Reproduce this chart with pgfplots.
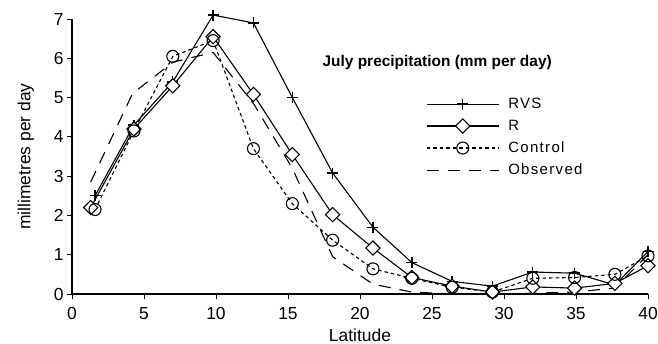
\documentclass[border=0pt]{standalone}
\usepackage{pgfplots}
\pgfplotsset{compat=1.18}
\usepackage{fontspec}
\setmainfont{Liberation Sans}
\newfontfamily\legfont[LetterSpace=9]{Liberation Sans}
\begin{document}
\begin{tikzpicture}
\useasboundingbox (0,0) rectangle (658bp,344bp);
\begin{axis}[
  at={(72bp,50bp)}, anchor=south west,
  scale only axis, width=576bp, height=275bp,
  xmin=0, xmax=40, ymin=0, ymax=7,
  axis lines=left, axis line style={-, line width=1.1pt},
  xtick={0,5,...,40}, ytick={0,1,...,7},
  tick align=outside, major tick length=5bp,
  tick style={line width=1pt, black},
  /pgf/number format/assume math mode=true,
  tick label style={font=\fontsize{17.5}{19}\selectfont},
  xticklabel style={yshift=-5bp},
  xlabel={Latitude}, ylabel={millimetres per day},
  label style={font=\fontsize{17.5}{19}\selectfont},
  xlabel style={yshift=-2bp},
  ylabel style={yshift=13bp},
  legend style={draw=none, fill=none, at={(351bp,200bp)}, anchor=north west,
    font=\legfont\fontsize{15}{17}\selectfont, row sep=6bp, column sep=7bp,
    legend cell align=left},
  legend image code/.code={\draw[mark repeat=2,mark phase=2,#1] plot coordinates {(0bp,0bp) (36bp,0bp) (72bp,0bp)};},
  clip=false,
]
\addplot[black, line width=1.1pt, mark=+, mark size=5.5bp, mark options={solid, line width=1.4pt}] coordinates {
(1.6,2.5) (4.3,4.3) (7.0,5.4) (9.8,7.1) (12.6,6.9) (15.3,5.0) (18.1,3.08) (20.9,1.7) (23.6,0.8) (26.4,0.32) (29.2,0.2) (32.0,0.56) (34.9,0.53) (37.7,0.23) (40,1.08)};
\addlegendentry{RVS}
\addplot[black, line width=1.1pt, mark=square*, mark size=5bp, mark options={solid, fill=white, line width=1.1pt, rotate=45}] coordinates {
(1.3,2.2) (4.3,4.2) (7.0,5.3) (9.8,6.55) (12.6,5.08) (15.3,3.55) (18.1,2.02) (20.9,1.17) (23.6,0.42) (26.4,0.2) (29.2,0.05) (32.0,0.18) (34.9,0.15) (37.7,0.27) (40,0.72)};
\addlegendentry{R}
\addplot[black, line width=1.1pt, dash pattern=on 3.5bp off 3bp, mark=o, mark size=6bp, mark options={solid, fill=white, line width=1.1pt}] coordinates {
(1.6,2.15) (4.3,4.15) (7.0,6.05) (9.8,6.45) (12.6,3.7) (15.3,2.3) (18.1,1.37) (20.9,0.64) (23.6,0.4) (26.4,0.17) (29.2,0.05) (32.0,0.4) (34.9,0.42) (37.7,0.5) (40,0.97)};
\addlegendentry{Control}
\addplot[black, line width=1.1pt, dash pattern=on 12bp off 9bp] coordinates {
(1.3,2.85) (4.2,5.1) (7.0,5.9) (9.8,6.15) (12.6,4.85) (15.3,3.2) (18.1,0.95) (20.9,0.25) (23.6,0.05) (26.4,0.0) (29.2,0.0) (32.0,0.02) (34.9,0.05) (37.7,0.15) (40,1.0)};
\addlegendentry{Observed}
\node[font=\bfseries\fontsize{15.5}{17}\selectfont] at (rel axis cs:0.634,0.84) {July precipitation (mm per day)};
\end{axis}
\end{tikzpicture}
\end{document}
